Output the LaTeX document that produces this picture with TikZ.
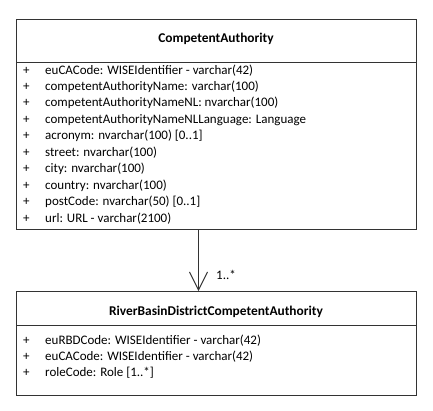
\documentclass[tikz,border=0pt]{standalone}
\usepackage{fontspec}
\setmainfont{Carlito}
\usetikzlibrary{arrows.meta}
\begin{document}
\begin{tikzpicture}[x=1pt,y=-1pt,
  box/.style={draw=black!80, line width=1pt},
  attr/.style={anchor=base west, inner sep=0pt, font=\fontsize{13}{15}\selectfont},
  title/.style={anchor=base, inner sep=0pt, font=\bfseries\fontsize{13.4}{15}\selectfont},
  assoc/.style={draw=black!80, line width=1pt, -{Straight Barb[length=18pt,width=18pt,line width=1pt]}}]
\useasboundingbox (0,0) rectangle (433,410);
% top class
\node[box, minimum width=400pt, minimum height=210pt, anchor=north west, inner sep=0pt] (ca) at (16,19) {};
\draw[box] (16,62) -- (416,62);
\node[title] (cat) at (216,42.5) {CompetentAuthority};
\foreach \t [count=\i from 0] in {{euCACode: WISEIdentifier - varchar(42)},
  {competentAuthorityName: varchar(100)},
  {competentAuthorityNameNL: nvarchar(100)},
  {competentAuthorityNameNLLanguage: Language},
  {acronym: nvarchar(100) [0..1]},
  {street: nvarchar(100)},
  {city: nvarchar(100)},
  {country: nvarchar(100)},
  {postCode: nvarchar(50) [0..1]},
  {url: URL - varchar(2100)}} {
  \pgfmathsetmacro\yy{74+16.45*\i}
  \node[attr] (cap\i) at (23,\yy) {+};
  \node[attr] (caa\i) at (45,\yy) {\t};
}
% bottom class
\node[box, minimum width=400pt, minimum height=104pt, anchor=north west, inner sep=0pt] (rb) at (16,291) {};
\draw[box] (16,325) -- (416,325);
\node[title] (rbt) at (216,315.5) {RiverBasinDistrictCompetentAuthority};
\foreach \t [count=\i from 0] in {{euRBDCode: WISEIdentifier - varchar(42)},
  {euCACode: WISEIdentifier - varchar(42)},
  {roleCode: Role [1..*]}} {
  \pgfmathsetmacro\yy{344.5+15.8*\i}
  \node[attr] (rbp\i) at (23,\yy) {+};
  \node[attr] (rba\i) at (45,\yy) {\t};
}
% association
\coordinate (s) at (198.5,229);
\coordinate (e) at (198.5,291);
\draw[assoc] (s) -- (e);
\node[attr] (mult) at (216,279) {1..*};
\end{tikzpicture}
\end{document}
